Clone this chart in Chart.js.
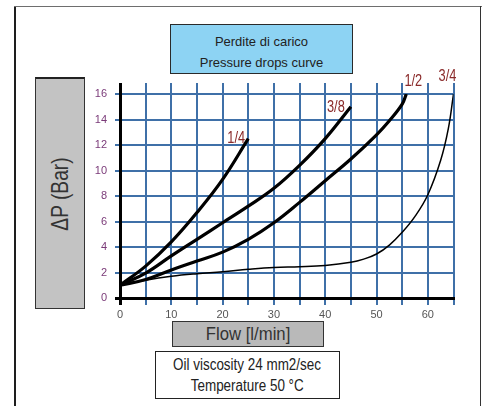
<!DOCTYPE html>
<html>
<head>
<meta charset="utf-8">
<script src="https://cdn.jsdelivr.net/npm/chart.js@4.4.1/dist/chart.umd.min.js"></script>
<style>
  html, body { margin: 0; padding: 0; background: #fff; }
  #wrap { position: relative; width: 484px; height: 406px; overflow: hidden; background: #fff; }
  canvas { position: absolute; left: 0; top: 0; }
  .narrow { font-family: 'Liberation Sans', Arial, sans-serif; }
  .sq { display: inline-block; transform-origin: 50% 50%; white-space: nowrap; }
  .box { position: absolute; box-sizing: border-box; }
  #frameL { left: 14px; top: 6px; width: 2px; height: 400px; background: #1e1e1e; }
  #frameT { left: 14px; top: 6px; width: 468px; height: 1px; background: #6e6e6e; }
  #frameR { left: 480px; top: 6px; width: 1px; height: 400px; background: #333; }
  #title { left: 170px; top: 24px; width: 183px; height: 50px; background: #8dd3f3; border: 1px solid #2a2a2a;
           font-family: 'Liberation Sans', Arial, sans-serif; font-size: 13px; color: #222; text-align: center;
           line-height: 21px; padding-top: 6px; }
  #ylab { left: 35px; top: 77px; width: 50px; height: 232px; background: #c3c3c3; border: 1px solid #333; border-top: 2px solid #222; }
  #ylab span { position: absolute; left: 50%; top: 50%; transform: translate(-50%, -50%) rotate(-90deg) scale(0.8, 1);
               white-space: nowrap; font-size: 24px; color: #333; }
  #flow { left: 172px; top: 321px; width: 152px; height: 26px; background: #b9b9b9; border: 1px solid #333;
          font-size: 19px; color: #333; text-align: center; line-height: 24px; }
  #flow .sq { transform: scale(0.88, 1); }
  #info { left: 155px; top: 351px; width: 185px; height: 48px; background: #fff; border: 1px solid #222;
          font-size: 16px; color: #222; text-align: center; line-height: 21px; padding-top: 2px; }
  #info .sq { transform: scale(0.84, 1); }
</style>
</head>
<body>
<div id="wrap">
  <canvas id="c" width="484" height="406"></canvas>
  <div class="box" id="frameL"></div>
  <div class="box" id="frameT"></div>
  <div class="box" id="frameR"></div>
  <div class="box" id="title">Perdite di carico<br>Pressure drops curve</div>
  <div class="box narrow" id="ylab"><span>ΔP (Bar)</span></div>
  <div class="box narrow" id="flow"><span class="sq">Flow [l/min]</span></div>
  <div class="box narrow" id="info"><span class="sq">Oil viscosity 24 mm2/sec</span><br><span class="sq">Temperature 50 °C</span></div>
</div>
<script>
// ---- data ----
const seriesNames = ['1/4', '3/8', '1/2', '3/4'];
const flow14 = [0, 5, 10, 15, 20, 25];
const dp14   = [1, 2.5, 4.4, 6.7, 9.3, 12.5];
const flow38 = [0, 5, 10, 15, 20, 25, 30, 35, 40, 45];
const dp38   = [1, 1.95, 3.3, 4.6, 5.9, 7.2, 8.6, 10.4, 12.5, 15.0];
const flow12 = [0, 5, 10, 15, 20, 25, 30, 35, 40, 45, 50, 52.5, 55, 55.8];
const dp12   = [1, 1.45, 2.2, 2.9, 3.6, 4.6, 5.9, 7.5, 9.2, 10.9, 12.8, 13.9, 15.2, 16];
const flow34 = [0, 5, 10, 15, 20, 25, 30, 35, 40, 45, 47.5, 50, 52.5, 55, 57.5, 60, 62.5, 64, 65];
const dp34   = [1, 1.4, 1.7, 1.9, 2.05, 2.25, 2.4, 2.45, 2.55, 2.8, 3.05, 3.45, 4.15, 5.15, 6.4, 8.1, 10.8, 13.3, 16];
const xTickLabels = [0, 10, 20, 30, 40, 50, 60];
const yTickLabels = [0, 2, 4, 6, 8, 10, 12, 14, 16];

const FONT = "'Liberation Sans', Arial, sans-serif";
const GRID = '#3f70a8';

function pts(xs, ys) { return xs.map((x, i) => ({ x: x, y: ys[i] })); }

const labelOffsets = [[-12, 0], [-15, 1], [7, -12], [-6, -17]];

const curveLabels = {
  id: 'curveLabels',
  afterDatasetsDraw(chart) {
    const ctx = chart.ctx;
    chart.data.datasets.forEach((ds, i) => {
      const last = ds.data[ds.data.length - 1];
      const px = chart.scales.x.getPixelForValue(last.x) + labelOffsets[i][0];
      const py = chart.scales.y.getPixelForValue(last.y) + labelOffsets[i][1];
      ctx.save();
      ctx.translate(px, py);
      ctx.scale(0.8, 1);
      ctx.font = '16px ' + FONT;
      ctx.fillStyle = '#8a2a2a';
      ctx.textAlign = 'center';
      ctx.textBaseline = 'middle';
      ctx.fillText(ds.label, 0, 0);
      ctx.restore();
    });
  }
};

const gridColor = (c) => (c.tick && c.tick.value === 0) ? '#000' : GRID;
const gridWidth = (c) => (c.tick && c.tick.value === 0) ? 3 : 2;

new Chart(document.getElementById('c'), {
  type: 'line',
  data: {
    datasets: [
      { label: seriesNames[0], data: pts(flow14, dp14), borderColor: '#000', borderWidth: 3.2 },
      { label: seriesNames[1], data: pts(flow38, dp38), borderColor: '#000', borderWidth: 3.2 },
      { label: seriesNames[2], data: pts(flow12, dp12), borderColor: '#000', borderWidth: 3.2 },
      { label: seriesNames[3], data: pts(flow34, dp34), borderColor: '#000', borderWidth: 1.5 }
    ]
  },
  options: {
    responsive: false,
    animation: false,
    devicePixelRatio: 1,
    layout: { padding: { left: 0, right: 30.5, top: 0, bottom: 0 } },
    elements: { point: { radius: 0 }, line: { tension: 0.4, fill: false } },
    plugins: { legend: { display: false }, tooltip: { enabled: false }, title: { display: false } },
    scales: {
      x: {
        type: 'linear', position: 'bottom', min: 0, max: 65,
        afterFit: (s) => { s.height = 108; },
        ticks: {
          stepSize: 5, autoSkip: false, maxRotation: 0, padding: 3,
          color: '#555', font: { family: FONT, size: 11 },
          callback: (v) => xTickLabels.includes(v) ? String(v) : ''
        },
        grid: { color: gridColor, lineWidth: gridWidth, drawTicks: true, tickLength: 7 },
        border: { display: true, color: '#000', width: 3 }
      },
      xTop: {
        type: 'linear', position: 'top', min: 0, max: 65,
        afterFit: (s) => { s.height = 94; },
        ticks: { display: false, stepSize: 5 },
        grid: { color: gridColor, lineWidth: gridWidth, drawTicks: true, tickLength: 11, drawOnChartArea: false },
        border: { display: false }
      },
      y: {
        type: 'linear', position: 'left', min: 0, max: 16,
        afterFit: (s) => { s.width = 120; },
        ticks: {
          stepSize: 2, autoSkip: false, padding: 8,
          color: '#7a3a78', font: { family: FONT, size: 11 },
          callback: (v) => yTickLabels.includes(v) ? String(v) : ''
        },
        grid: { color: gridColor, lineWidth: gridWidth, drawTicks: true, tickLength: 5 },
        border: { display: true, color: '#000', width: 3 }
      }
    }
  },
  plugins: [curveLabels]
});
</script>
</body>
</html>
